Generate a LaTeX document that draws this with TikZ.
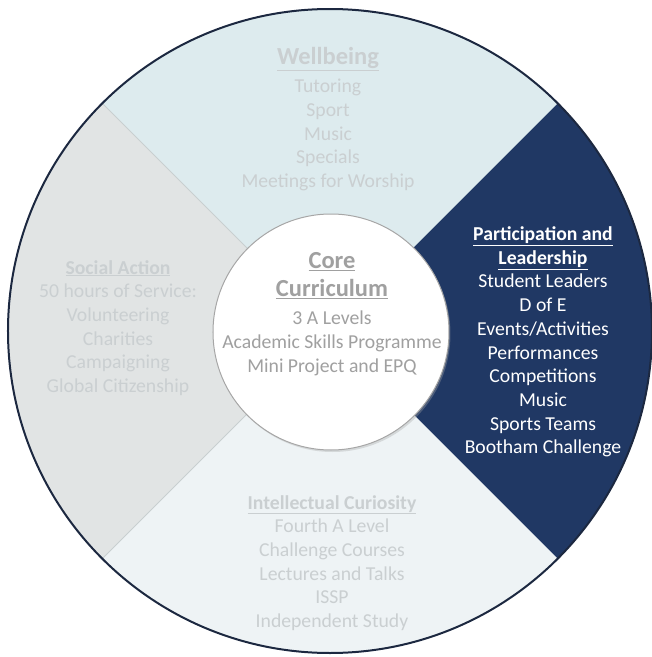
\documentclass[tikz,border=0pt]{standalone}
\usepackage{fontspec}
\setmainfont{Carlito}
\definecolor{navy}{RGB}{32,56,100}
\definecolor{rim}{RGB}{28,40,64}
\definecolor{wellbg}{RGB}{221,235,238}
\definecolor{socialbg}{RGB}{225,228,228}
\definecolor{intelbg}{RGB}{238,243,245}
\definecolor{fadetext}{RGB}{202,207,209}
\definecolor{coretext}{RGB}{160,160,160}
\definecolor{linegray}{RGB}{200,207,208}
\newcommand\bigtitle[1]{{\fontsize{24.5}{28}\selectfont\bfseries\underline{#1}}}
\begin{document}
\begin{tikzpicture}[x=1pt,y=1pt,
  listtext/.style={align=center,inner sep=0pt,font=\fontsize{19.7}{23.7}\selectfont},
  fadelist/.style={listtext,text=fadetext}]
\useasboundingbox (-330,-326) rectangle (322,331);
% the four sectors
\fill[navy] (0,0) -- (-45:322pt) arc[start angle=-45,end angle=45,radius=322pt] -- cycle;
\fill[wellbg] (0,0) -- (45:322pt) arc[start angle=45,end angle=135,radius=322pt] -- cycle;
\fill[socialbg] (0,0) -- (135:322pt) arc[start angle=135,end angle=225,radius=322pt] -- cycle;
\fill[intelbg] (0,0) -- (225:322pt) arc[start angle=225,end angle=315,radius=322pt] -- cycle;
\draw[linegray,line width=0.8pt] (0,0) -- (135:322pt);
\draw[linegray,line width=0.8pt] (0,0) -- (225:322pt);
\draw[rim,line width=2pt] (0,0) circle[radius=322pt];
% core circle
\fill[black!35,opacity=0.35] (2.5,-3) circle[radius=118pt];
\draw[fill=white,draw=black!35,line width=1pt] (1,-1) circle[radius=118pt];
% texts
\node[fadelist] (well) at (-2,212) {\bigtitle{Wellbeing}\\[5pt]
  Tutoring\\Sport\\Music\\Specials\\Meetings for Worship};
\node[fadelist] (social) at (-212,3) {{\bfseries\underline{Social Action}}\\
  50 hours of Service:\\Volunteering\\Charities\\Campaigning\\Global Citizenship};
\node[fadelist] (intel) at (2,-232) {{\bfseries\underline{Intellectual Curiosity}}\\
  Fourth A Level\\Challenge Courses\\Lectures and Talks\\ISSP\\Independent Study};
\node[listtext,text=white] (partic) at (213,-11) {{\bfseries\underline{Participation and}}\\
  {\bfseries\underline{Leadership}}\\Student Leaders\\D of E\\Events/Activities\\Performances\\
  Competitions\\Music\\Sports Teams\\Bootham Challenge};
\node[listtext,text=coretext] (core) at (2,17) {\bigtitle{Core}\\[4pt]
  \bigtitle{Curriculum}\\[5pt]3 A Levels\\Academic Skills Programme\\Mini Project and EPQ};
\end{tikzpicture}
\end{document}
